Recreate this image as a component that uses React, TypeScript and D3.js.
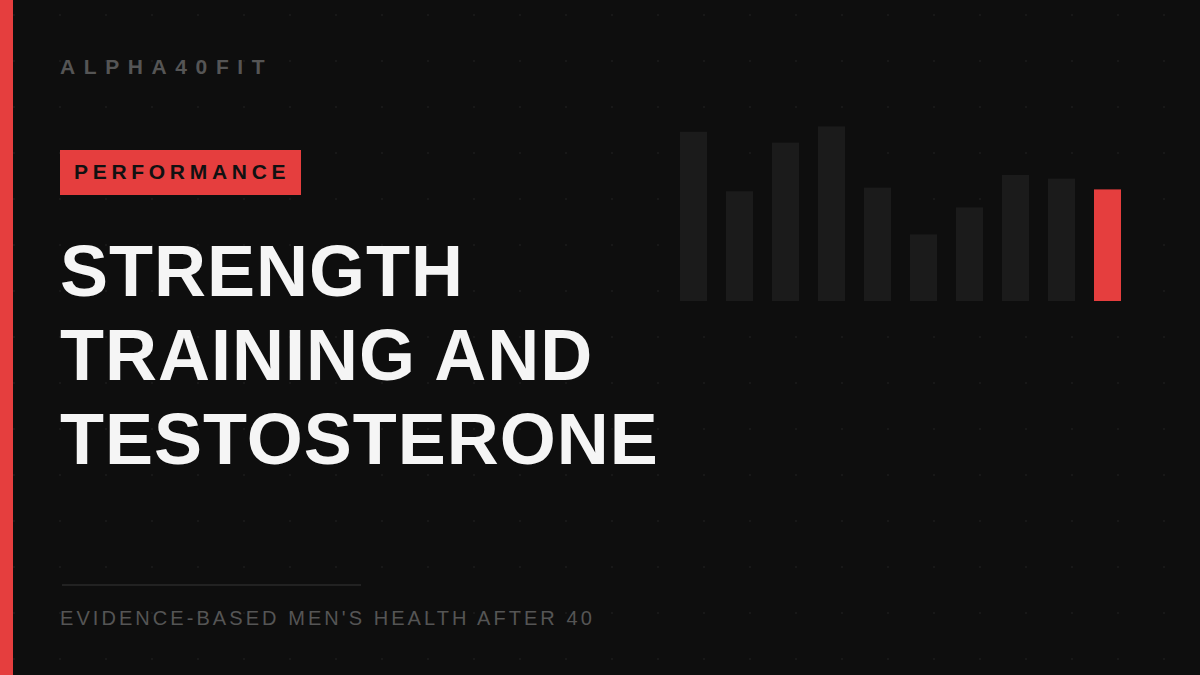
import React, { useEffect } from 'react';
import { range, scaleBand, scaleLinear } from 'd3';

// bar heights (relative, 0-100), last one highlighted
const barValues = [94, 61, 88, 97, 63, 37, 52, 70, 68, 62];
const highlightIndex = 9;

const brand = 'ALPHA40FIT';
const tag = 'PERFORMANCE';
const titleLines = ['STRENGTH', 'TRAINING AND', 'TESTOSTERONE'];
const subtitle = "EVIDENCE-BASED MEN'S HEALTH AFTER 40";

const W = 1200;
const H = 675;
const RED = '#e53e3e';
const FONT = '"Liberation Sans", Arial, Helvetica, sans-serif';

export default function App() {
  useEffect(() => {
    document.body.style.margin = '0';
  }, []);

  const x = scaleBand<number>()
    .domain(barValues.map((_, i) => i))
    .range([680, 1121])
    .paddingInner(0.413)
    .paddingOuter(0);
  const y = scaleLinear().domain([0, 100]).range([301, 121]);

  const dotsX = range(14, W, 46);
  const dotsY = range(15, H, 46);

  return (
    <svg width={W} height={H} style={{ display: 'block' }}>
      <rect width={W} height={H} fill="#0e0e0e" />
      <g fill="#1d1d1d">
        {dotsY.map((dy) =>
          dotsX.map((dx) => <circle key={`${dx}-${dy}`} cx={dx} cy={dy} r={1} />)
        )}
      </g>
      <rect x={0} y={0} width={13} height={H} fill={RED} />

      <g>
        {barValues.map((v, i) => (
          <rect
            key={i}
            x={x(i)}
            y={y(v)}
            width={x.bandwidth()}
            height={y(0) - y(v)}
            fill={i === highlightIndex ? RED : '#1b1b1b'}
          />
        ))}
      </g>

      <text x={60} y={74} fill="#555" fontFamily={FONT} fontSize={21} fontWeight="bold" letterSpacing={8.6}>
        {brand}
      </text>

      <rect x={60} y={150} width={241} height={45} fill={RED} />
      <text x={74} y={179} fill="#111" fontFamily={FONT} fontSize={21} fontWeight="bold" letterSpacing={4.7}>
        {tag}
      </text>

      {titleLines.map((line, i) => (
        <text
          key={line}
          x={60}
          y={296 + i * 84}
          fill="#f5f5f5"
          fontFamily={FONT}
          fontSize={72}
          fontWeight="bold"
          letterSpacing={1}
        >
          {line}
        </text>
      ))}

      <rect x={62} y={584} width={299} height={2} fill="#222" />
      <text x={60} y={625} fill="#555" fontFamily={FONT} fontSize={20} letterSpacing={3.06}>
        {subtitle}
      </text>
    </svg>
  );
}
